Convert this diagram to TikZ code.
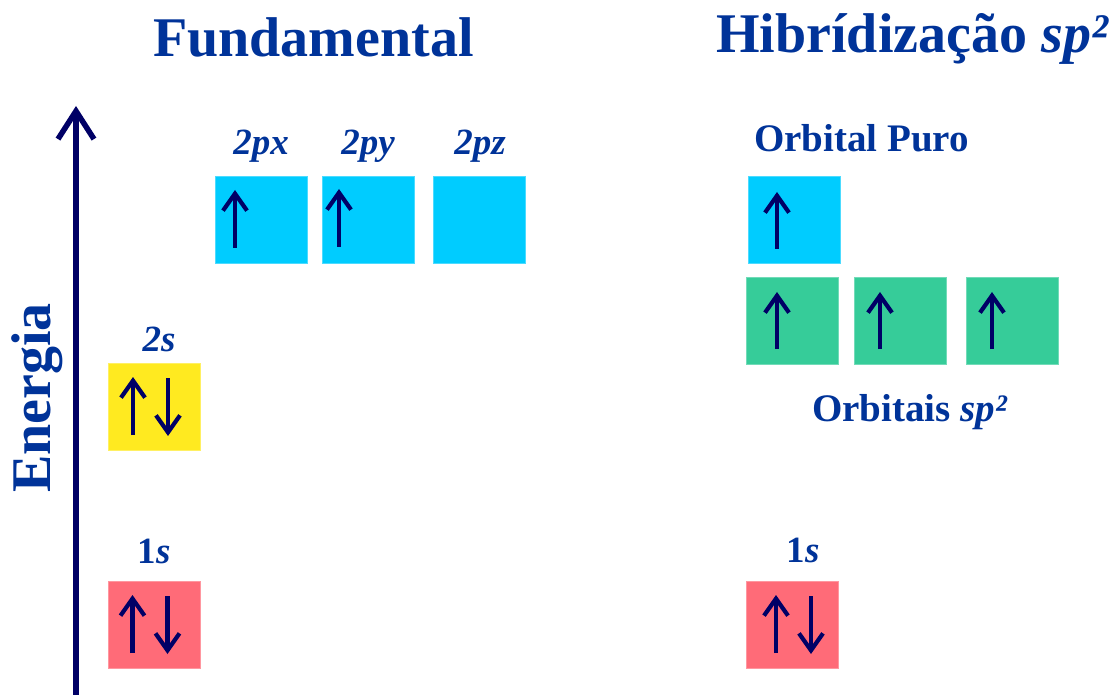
\documentclass[tikz,border=0pt]{standalone}
\usepackage{fontspec}
\setmainfont{Liberation Serif}
\usetikzlibrary{arrows.meta,calc}
\definecolor{txtblue}{HTML}{003399}
\definecolor{navy}{HTML}{000066}
\definecolor{cyanbox}{HTML}{00CCFF}
\definecolor{grnbox}{HTML}{36CC99}
\definecolor{yelbox}{HTML}{FFEA20}
\definecolor{redbox}{HTML}{FF6B78}
\begin{document}
\begin{tikzpicture}[x=1pt,y=-1pt,
  orb/.style={fill=#1, draw=#1!70!white, line width=0.8pt, minimum width=92pt, minimum height=87pt, inner sep=0pt, anchor=north west},
  spin/.style={draw=navy, line width=4.2pt, -{Straight Barb[length=17pt,width=24pt,line width=4.2pt]}},
  axis/.style={draw=navy, line width=5.5pt, -{Straight Barb[length=28pt,width=36pt,line width=5.5pt]}},
  title/.style={text=txtblue, inner sep=0pt, anchor=base west, font=\fontsize{56}{60}\selectfont\bfseries},
  lbl/.style={text=txtblue, inner sep=0pt, anchor=base, font=\fontsize{37}{40}\selectfont\bfseries},
  sub/.style={text=txtblue, inner sep=0pt, anchor=base west, font=\fontsize{39}{42}\selectfont\bfseries}
]
\useasboundingbox (0,0) rectangle (1117,695);

% titles
\node[title] (t1) at (153,57) {Fundamental};
\node[title] (t2) at (716,53) {Hibrídização \textit{sp²}};

% energy axis
\coordinate (ab) at (76,697);
\coordinate (at) at (76,106);
\draw[axis] (ab) -- (at);
\node[rotate=90, title] (en) at (50,493) {Energia};

% left boxes
\node[orb=cyanbox] (px) at (215,176) {};
\node[orb=cyanbox] (py) at (322,176) {};
\node[orb=cyanbox] (pz) at (433,176) {};
\node[orb=yelbox] (s2) at (108,363) {};
\node[orb=redbox] (s1) at (108,581) {};

% right boxes
\node[orb=cyanbox] (pp) at (748,176) {};
\node[orb=grnbox] (h1) at (746,277) {};
\node[orb=grnbox] (h2) at (854,277) {};
\node[orb=grnbox] (h3) at (966,277) {};
\node[orb=redbox] (r1) at (746,581) {};

% labels
\node[lbl] (lpx) at (261,155) {\itshape 2px};
\node[lbl] (lpy) at (368,155) {\itshape 2py};
\node[lbl] (lpz) at (480,155) {\itshape 2pz};
\node[lbl] (l2s) at (159,351) {\itshape 2s};
\node[lbl] (l1s) at (154,563) {1\textit{s}};
\node[lbl] (r1s) at (803,562) {1\textit{s}};
\node[sub] (op) at (754,152) {Orbital Puro};
\node[sub] (os) at (812,421) {Orbitais \textit{sp²}};

% spins
\draw[spin] ($(px.north west)+(20,72)$) -- ($(px.north west)+(20,14)$);
\draw[spin] ($(py.north west)+(17,71)$) -- ($(py.north west)+(17,13)$);
\draw[spin] ($(pp.north west)+(29,73)$) -- ($(pp.north west)+(29,16)$);
\draw[spin] ($(h1.north west)+(31,72)$) -- ($(h1.north west)+(31,15)$);
\draw[spin] ($(h2.north west)+(26,72)$) -- ($(h2.north west)+(26,15)$);
\draw[spin] ($(h3.north west)+(26,72)$) -- ($(h3.north west)+(26,15)$);
\draw[spin] ($(s2.north west)+(25,72)$) -- ($(s2.north west)+(25,14)$);
\draw[spin] ($(s2.north west)+(60,15)$) -- ($(s2.north west)+(60,73)$);
\draw[spin] ($(s1.north west)+(24.5,72)$) -- ($(s1.north west)+(24.5,14)$);
\draw[spin] ($(s1.north west)+(59.5,15)$) -- ($(s1.north west)+(59.5,73)$);
\draw[spin] ($(r1.north west)+(30,72)$) -- ($(r1.north west)+(30,14)$);
\draw[spin] ($(r1.north west)+(65,15)$) -- ($(r1.north west)+(65,73)$);
\end{tikzpicture}
\end{document}
